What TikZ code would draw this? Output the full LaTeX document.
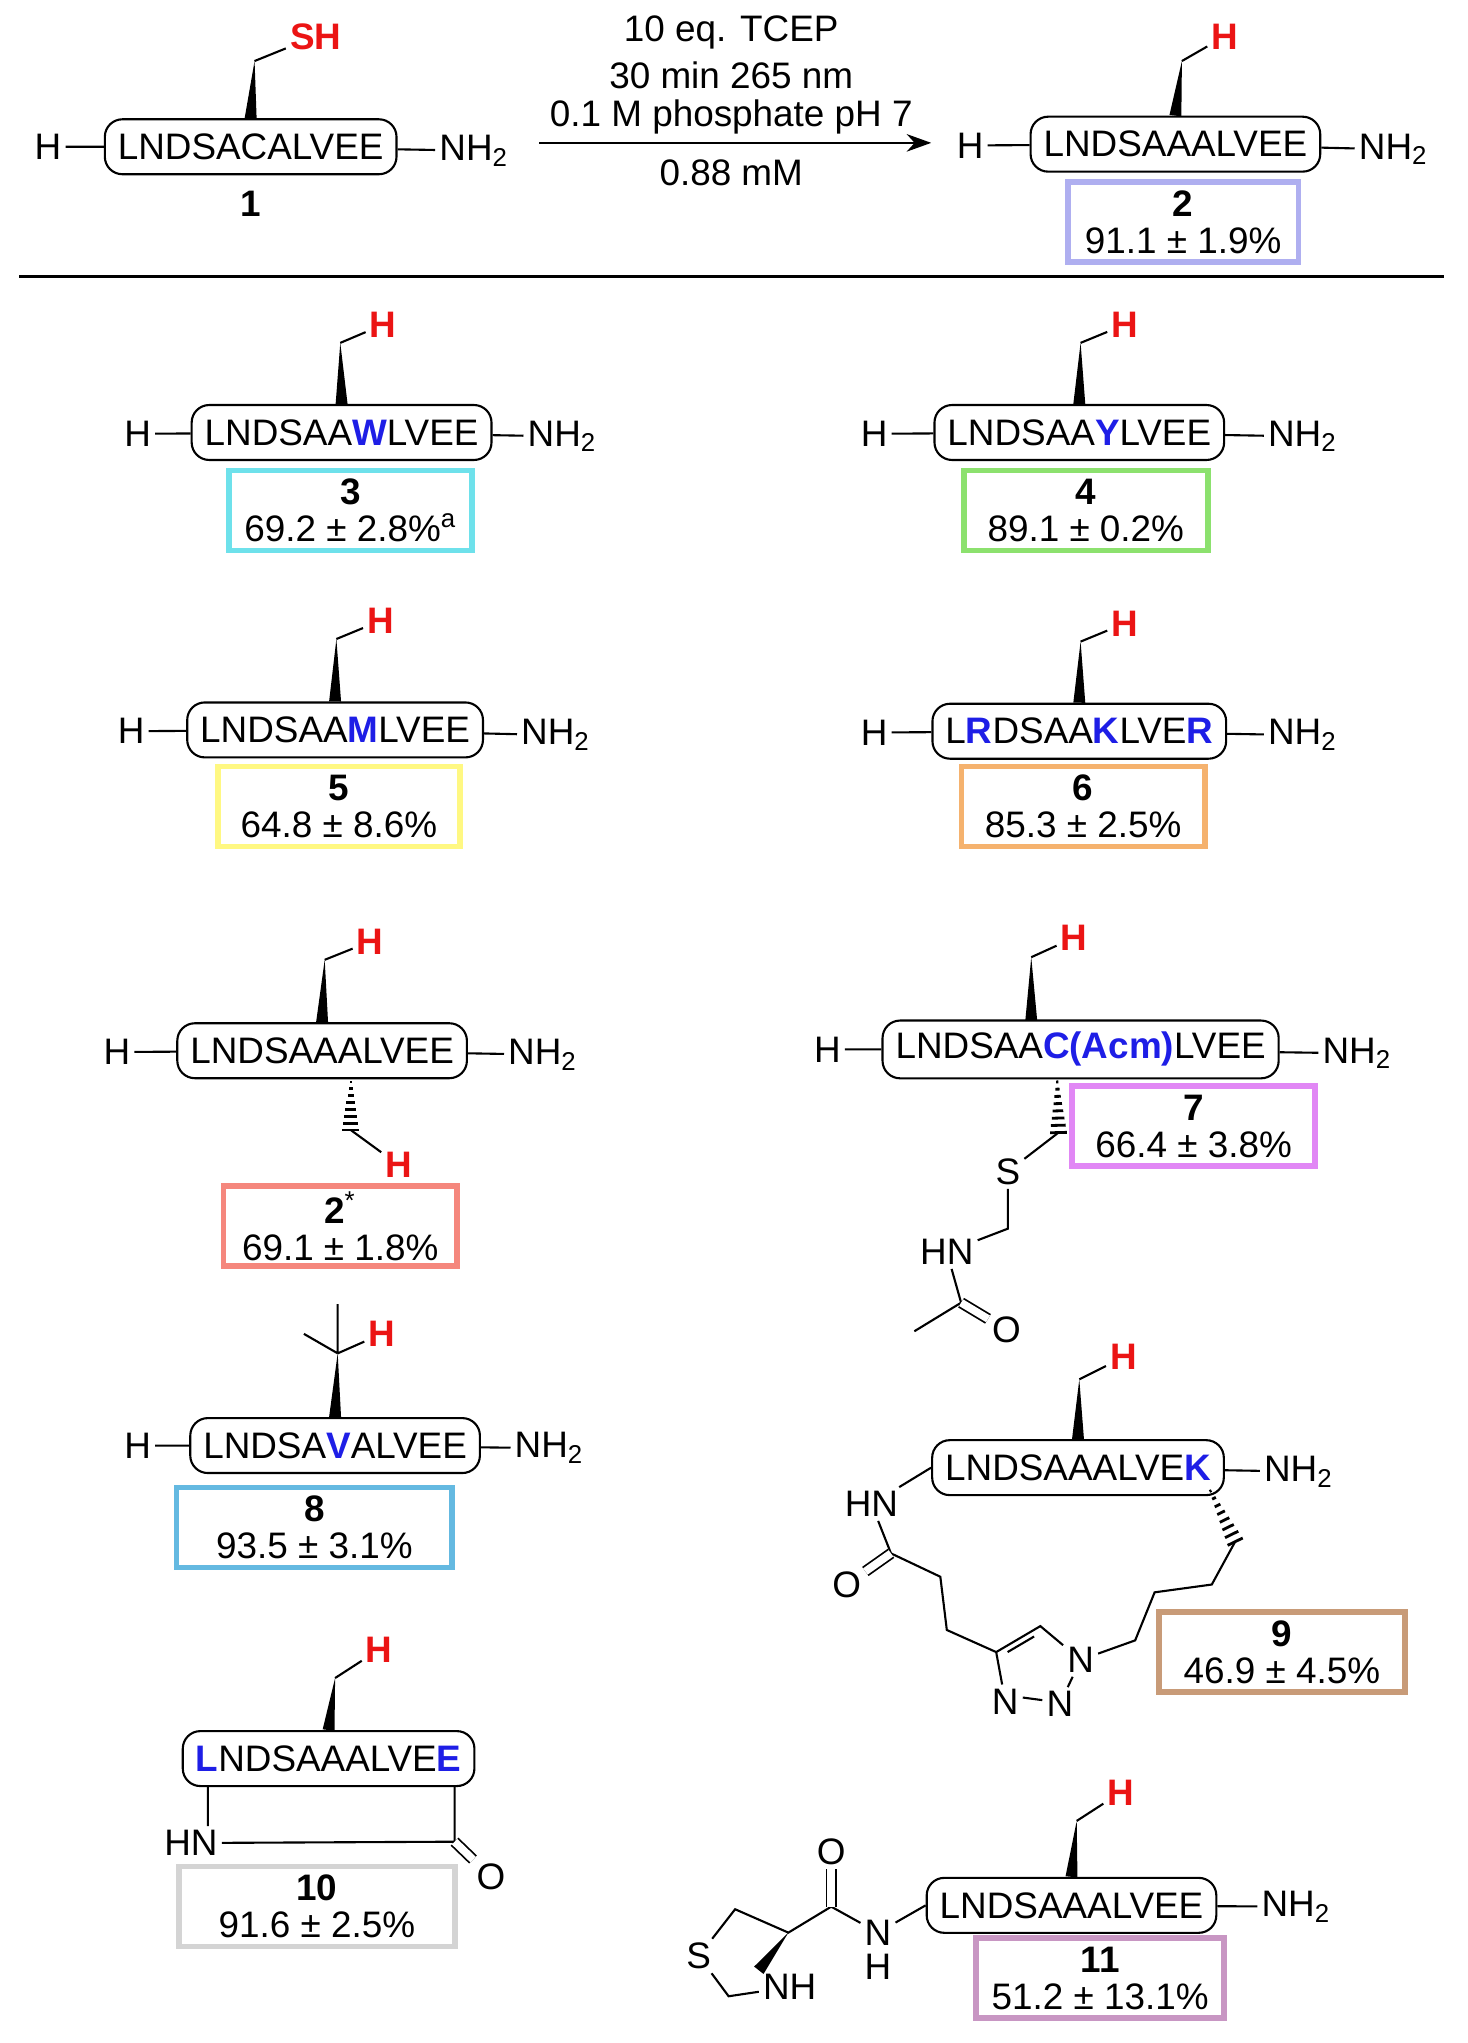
\documentclass[tikz,border=0pt]{standalone}
\usepackage{fontspec}
\setmainfont{Liberation Sans}
\usetikzlibrary{calc,arrows.meta}
\definecolor{hred}{RGB}{235,20,20}
\definecolor{pblue}{RGB}{30,30,230}
\definecolor{cLav}{RGB}{175,175,240}
\definecolor{cCyan}{RGB}{110,225,235}
\definecolor{cGreen}{RGB}{140,225,110}
\definecolor{cYellow}{RGB}{255,248,130}
\definecolor{cOrange}{RGB}{245,178,110}
\definecolor{cSalmon}{RGB}{245,135,125}
\definecolor{cViolet}{RGB}{225,135,245}
\definecolor{cSky}{RGB}{100,185,225}
\definecolor{cBrown}{RGB}{200,155,120}
\definecolor{cGrey}{RGB}{212,212,212}
\definecolor{cMauve}{RGB}{200,150,195}
\newcommand\fs{\fontsize{10.5}{12}\selectfont}
\newcommand\hl[1]{\textbf{\color{pblue}#1}}
% bold wedge: narrow end, wide end
\newcommand\wedgeb[2]{\fill ($#1$) -- ($#2!1.7pt!90:#1$) -- ($#2!1.7pt!-90:#1$) -- cycle;}
% hashed wedge: narrow end, wide end
\newcommand\hashb[2]{\path #1 -- #2 \foreach \k in {0,...,7}{node[pos=\k/7,sloped,fill,inner sep=0,minimum width=0.8pt,minimum height={(1+\k)*0.6pt}]{}};}
\tikzset{
  atom/.style={inner sep=1pt,font=\fs},
  hatom/.style={atom,text=hred,font=\fs\bfseries},
  pep/.style={draw,rounded corners=5pt,inner xsep=0.13cm,minimum height=0.55cm,font=\fs,line width=0.6pt},
  yld/.style={draw=#1,line width=1.6pt,minimum height=0.8cm,align=center,inner sep=1pt,
    font=\fontsize{10.5}{10.5}\selectfont},
  bond/.style={line width=0.6pt},
  dbl/.style={line width=0.5pt,double,double distance=2.2pt},
}
\begin{document}
\begin{tikzpicture}[x=0.013cm,y=-0.013cm]
\useasboundingbox (0,0) rectangle (1130,1573);
% reaction
\node[pep] (p1) at (193,113) {LNDSACALVEE};
\node[atom] (h1) at (37,113) {H};
\node[atom] (n1) at (365,116) {NH\textsubscript{2}};
\node[atom,font=\fs\bfseries] (l1) at (193,157) {1};
\coordinate (t1) at (196,47);
\node[hatom] (s1) at (243,28) {SH};
\wedgeb{(t1)}{(p1.north)}
\draw[bond] (h1) -- (p1) (p1) -- (n1) (t1) -- (s1);
\coordinate (a1) at (415,110);
\coordinate (a2) at (717,110);
\draw[bond,-{Stealth[length=7pt,width=5pt]}] (a1) -- (a2);
\node[atom] (c1) at (563,25) {10 eq. TCEP};
\node[atom] (c2) at (563,58) {30 min 265 nm};
\node[atom] (c3) at (563,90) {0.1 M phosphate pH 7};
\node[atom] (c4) at (563,133) {0.88 mM};
\node[pep] (p2) at (905,111) {LNDSAAALVEE};
\node[atom] (h2) at (747,112) {H};
\node[atom] (n2) at (1073,115) {NH\textsubscript{2}};
\coordinate (t2) at (910,47);
\node[hatom] (r2) at (943,28) {H};
\wedgeb{(t2)}{(p2.north)}
\draw[bond] (h2) -- (p2) (p2) -- (n2) (t2) -- (r2);
\node[yld=cLav,minimum width=2.31cm] (y2) at (911,171) {\textbf{2}\\91.1 ± 1.9\%};
\coordinate (s0) at (15,213);
\coordinate (s9) at (1112,213);
\draw[line width=0.9pt] (s0) -- (s9);
% 3
\node[pep] (p3) at (263,333) {LNDSAA\hl{W}LVEE};
\node[atom] (h3) at (106,334) {H};
\node[atom] (n3) at (433,336) {NH\textsubscript{2}};
\coordinate (t3) at (262,264);
\node[hatom] (r3) at (295,250) {H};
\wedgeb{(t3)}{(p3.north)}
\draw[bond] (h3) -- (p3) (p3) -- (n3) (t3) -- (r3);
\node[yld=cCyan,minimum width=2.43cm] (y3) at (270,393) {\textbf{3}\\69.2 ± 2.8\%\textsuperscript{a}};
% 4
\node[pep] (p4) at (831,333) {LNDSAA\hl{Y}LVEE};
\node[atom] (h4) at (673,334) {H};
\node[atom] (n4) at (1003,336) {NH\textsubscript{2}};
\coordinate (t4) at (832,264);
\node[hatom] (r4) at (866,250) {H};
\wedgeb{(t4)}{(p4.north)}
\draw[bond] (h4) -- (p4) (p4) -- (n4) (t4) -- (r4);
\node[yld=cGreen,minimum width=2.44cm] (y4) at (836,393) {\textbf{4}\\89.1 ± 0.2\%};
% 5
\node[pep] (p5) at (258,562) {LNDSAA\hl{M}LVEE};
\node[atom] (h5) at (101,563) {H};
\node[atom] (n5) at (428,566) {NH\textsubscript{2}};
\coordinate (t5) at (259,492);
\node[hatom] (r5) at (293,478) {H};
\wedgeb{(t5)}{(p5.north)}
\draw[bond] (h5) -- (p5) (p5) -- (n5) (t5) -- (r5);
\node[yld=cYellow,minimum width=2.42cm] (y5) at (261,621) {\textbf{5}\\64.8 ± 8.6\%};
% 6
\node[pep] (p6) at (831,563) {L\hl{R}DSAA\hl{K}LVE\hl{R}};
\node[atom] (h6) at (673,564) {H};
\node[atom] (n6) at (1003,566) {NH\textsubscript{2}};
\coordinate (t6) at (832,494);
\node[hatom] (r6) at (866,480) {H};
\wedgeb{(t6)}{(p6.north)}
\draw[bond] (h6) -- (p6) (p6) -- (n6) (t6) -- (r6);
\node[yld=cOrange,minimum width=2.44cm] (y6) at (834,621) {\textbf{6}\\85.3 ± 2.5\%};
% 2*
\node[pep] (pa) at (248,809) {LNDSAAALVEE};
\node[atom] (ha) at (90,810) {H};
\node[atom] (na) at (418,812) {NH\textsubscript{2}};
\coordinate (ta) at (250,739);
\node[hatom] (ra) at (285,725) {H};
\wedgeb{(ta)}{(pa.north)}
\coordinate (ua) at (270,833);
\coordinate (va) at (270,870);
\hashb{(ua)}{(va)}
\node[hatom] (rb) at (307,897) {H};
\draw[bond] (ha) -- (pa) (pa) -- (na) (ta) -- (ra) (va) -- (rb);
\node[yld=cSalmon,minimum width=2.34cm] (ya) at (262,944) {\textbf{2}\textsuperscript{*}\\69.1 ± 1.8\%};
% 7
\node[pep] (p7) at (832,808) {LNDSAA\hl{C(Acm)}LVEE};
\node[atom] (h7) at (637,808) {H};
\node[atom] (n7) at (1045,811) {NH\textsubscript{2}};
\coordinate (b7) at (794,786);
\coordinate (t7) at (794,737);
\node[hatom] (r7) at (827,722) {H};
\wedgeb{(t7)}{(b7)}
\coordinate (u7) at (814,833);
\coordinate (v7) at (815,872);
\hashb{(u7)}{(v7)}
\node[atom] (sa) at (776,902) {S};
\coordinate (m7) at (776,946);
\node[atom] (hn7) at (729,964) {HN};
\coordinate (c7) at (740,1003);
\node[atom] (o7) at (775,1024) {O};
\coordinate (e7) at (704,1025);
\draw[bond] (h7) -- (p7) (p7) -- (n7) (t7) -- (r7) (v7) -- (sa) (sa) -- (m7) -- (hn7)
  (hn7) -- (c7) -- (e7);
\draw[dbl] (c7) -- (o7);
\node[yld=cViolet,minimum width=2.43cm] (y7) at (919,867) {\textbf{7}\\66.4 ± 3.8\%};
% 8
\node[pep] (p8) at (258,1113) {LNDSA\hl{V}ALVEE};
\node[atom] (h8) at (106,1113) {H};
\node[atom] (n8) at (423,1115) {NH\textsubscript{2}};
\coordinate (t8) at (260,1042);
\node[hatom] (r8) at (294,1027) {H};
\coordinate (m8) at (234,1027);
\coordinate (k8) at (260,1004);
\wedgeb{(t8)}{(p8.north)}
\draw[bond] (h8) -- (p8) (p8) -- (n8) (t8) -- (r8) (t8) -- (m8) (t8) -- (k8);
\node[yld=cSky,minimum width=2.76cm] (y8) at (242,1176) {\textbf{8}\\93.5 ± 3.1\%};
% 9
\node[pep] (p9) at (830,1130) {LNDSAAALVE\hl{K}};
\node[atom] (n9) at (1000,1133) {NH\textsubscript{2}};
\coordinate (t9) at (831,1062);
\node[hatom] (r9) at (865,1045) {H};
\wedgeb{(t9)}{(p9.north)}
\node[atom] (hn9) at (671,1158) {HN};
\coordinate (c9) at (686,1196);
\node[atom] (o9) at (652,1220) {O};
\coordinate (d9) at (724,1214);
\coordinate (e9) at (729,1255);
\coordinate (q4) at (767,1272);
\coordinate (q5) at (801,1252);
\node[atom] (q1) at (832,1278) {N};
\node[atom] (q2) at (816,1312) {N};
\node[atom] (q3) at (774,1310) {N};
\coordinate (f9) at (874,1263);
\coordinate (g9) at (889,1226);
\coordinate (i9) at (933,1220);
\coordinate (j9) at (951,1187);
\coordinate (u9) at (932,1148);
\hashb{(u9)}{(j9)}
\draw[bond] (p9) -- (n9) (t9) -- (r9) (p9.west) -- (hn9) (hn9) -- (c9) -- (d9) -- (e9) -- (q4)
  (q4) -- (q5) -- (q1) (q1) -- (q2) (q3) -- (q4) (q1) -- (f9) -- (g9) -- (i9) -- (j9);
\draw[dbl] (c9) -- (o9);
\draw[bond] ($(q4)!0.2!(q5)+(2,4)$) -- ($(q4)!0.8!(q5)+(2,4)$);
\draw[bond] ($(q3.east)+(0,-3)$) -- ($(q2.west)+(0,-3)$);
\node[yld=cBrown,minimum width=2.46cm] (y9) at (987,1272) {\textbf{9}\\46.9 ± 4.5\%};
% 10
\node[pep] (p10) at (253,1354) {\hl{L}NDSAAALVE\hl{E}};
\coordinate (t10) at (258,1292);
\node[hatom] (r10) at (292,1270) {H};
\wedgeb{(t10)}{(p10.north)}
\coordinate (b10) at (160,1376);
\node[atom] (hn10) at (147,1419) {HN};
\coordinate (d10) at (350,1376);
\coordinate (c10) at (350,1418);
\node[atom] (o10) at (378,1445) {O};
\draw[bond] (t10) -- (r10) (b10) -- (b10 |- hn10.north) (hn10) -- (c10) -- (d10);
\draw[dbl] (c10) -- (o10);
\node[yld=cGrey,minimum width=2.76cm] (y10) at (244,1468) {\textbf{10}\\91.6 ± 2.5\%};
% 11
\node[pep] (p11) at (825,1467) {LNDSAAALVEE};
\node[atom] (n11) at (998,1468) {NH\textsubscript{2}};
\coordinate (t11) at (829,1402);
\node[hatom] (r11) at (863,1380) {H};
\wedgeb{(t11)}{(p11.north)}
\node[atom] (nh11) at (676,1488) {N};
\node[atom] (hh11) at (676,1514) {H};
\coordinate (c11) at (640,1468);
\node[atom] (o11) at (640,1426) {O};
\coordinate (a11) at (607,1488);
\coordinate (k11) at (566,1470);
\node[atom] (s11) at (538,1506) {S};
\coordinate (m11) at (561,1537);
\node[atom] (nr11) at (608,1530) {NH};
\draw[bond] (p11) -- (n11) (t11) -- (r11) (p11.west) -- (nh11) (nh11) -- (c11) -- (a11) -- (k11) -- (s11)
  (s11) -- (m11) -- (nr11);
\draw[dbl] (c11) -- (o11);
\wedgeb{(a11)}{(nr11.north west)}
\node[yld=cMauve,minimum width=2.48cm] (y11) at (847,1523) {\textbf{11}\\51.2 ± 13.1\%};
\end{tikzpicture}
\end{document}
